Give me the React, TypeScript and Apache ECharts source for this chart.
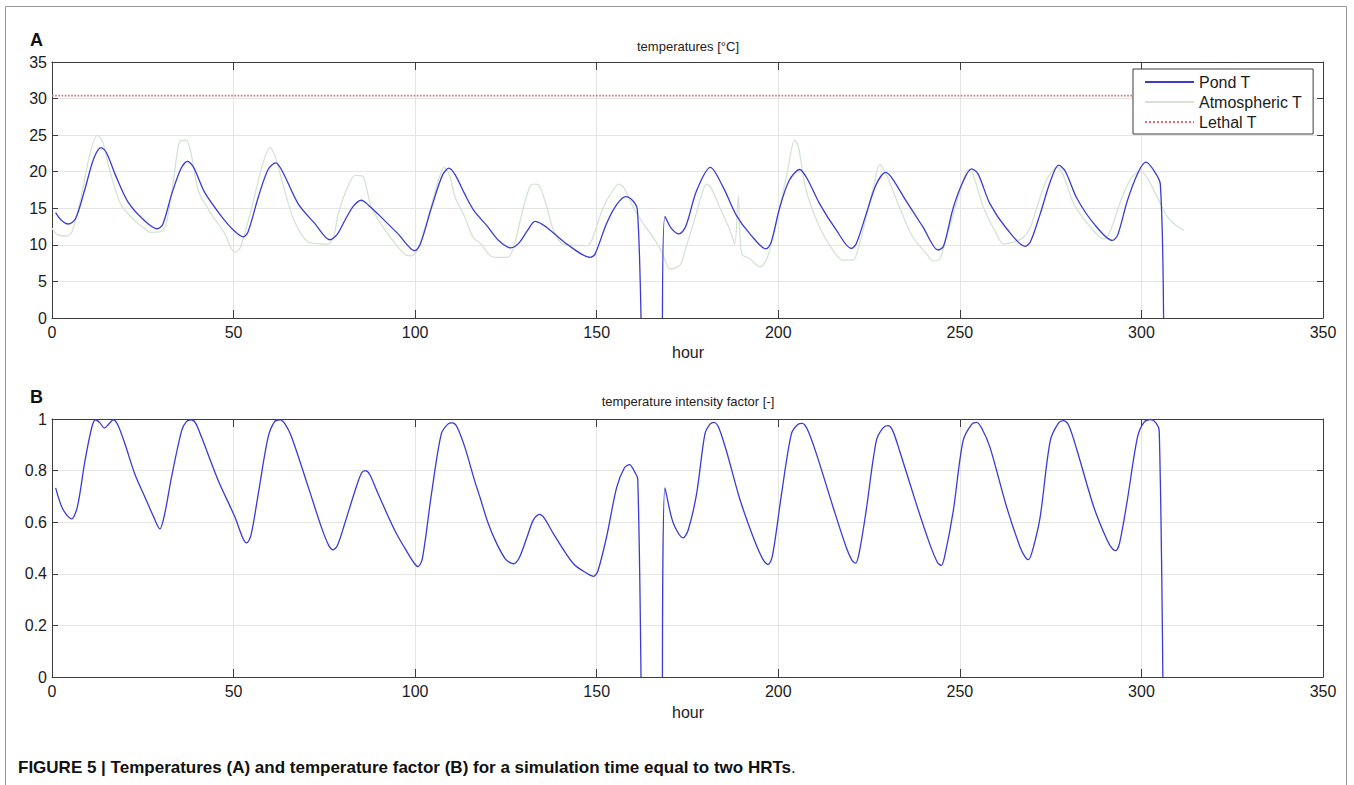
import React, { useEffect, useRef } from "react";
import * as echarts from "echarts";

const FONT = '"Liberation Sans", Arial, Helvetica, sans-serif';

// x ticks (hour)
const hourTicks = [0, 50, 100, 150, 200, 250, 300, 350];
const tempTicks = [0, 5, 10, 15, 20, 25, 30, 35];
const factorTicks = [0, 0.2, 0.4, 0.6, 0.8, 1];

const seriesNames = ["Pond T", "Atmospheric T", "Lethal T"];

// Pond temperature [hour, °C]
const pondT: (number | null)[][] = [
  [1, 14.4], [2.5, 13.4], [4.5, 12.85], [6.5, 13.6], [9, 17.5], [11.5, 21.8], [13.5, 23.3], [15, 22.6],
  [17.5, 19.5], [21, 15.8], [25.5, 13.3], [29, 12.2], [30.5, 12.8], [33, 17], [35.5, 20.4], [37.3, 21.4],
  [39, 20.6], [42, 17.2], [46.5, 14.0], [50, 12], [52.7, 11.1], [54, 11.8], [56.8, 16.5], [59.5, 20.3],
  [61.6, 21.2], [63.5, 20.0], [67.8, 15.6], [72.4, 12.9], [76.5, 10.7], [78.5, 11.4], [80.6, 13.3],
  [83, 15.3], [85.2, 16.1], [87, 15.5], [89.8, 14.2], [95.3, 11.5], [99.9, 9.2], [101.5, 10.2],
  [104.5, 15.1], [107.5, 19.5], [109.3, 20.5], [111, 19.6], [113.6, 17.0], [116.3, 14.6], [119.8, 12.6],
  [123, 10.6], [126.3, 9.6], [128.5, 10.2], [131, 12.0], [133, 13.2], [135, 12.8], [137.2, 12.0],
  [141.8, 10.1], [148.2, 8.3], [149.5, 8.7], [152.7, 12.9], [155.5, 15.5], [158, 16.6], [160, 16.0],
  [161.2, 14.8], [162.2, 0], [165, null], [168.1, 0], [168.8, 13.9], [170.5, 12.3], [172.7, 11.5],
  [174.5, 12.5], [177.5, 17.4], [181.3, 20.6], [184.8, 17.9], [188.5, 14.0], [192.2, 11.5], [196.6, 9.45],
  [198, 10.3], [200.4, 15.1], [203, 18.8], [205.9, 20.3], [208, 19.0], [211.4, 15.6], [216, 12.0],
  [220.1, 9.5], [221.5, 10.2], [224.2, 14.2], [227, 18.3], [229.6, 19.9], [231.5, 19.0], [235.2, 16.0],
  [239.9, 12.4], [244, 9.3], [245.5, 9.8], [248.2, 15.1], [251, 18.8], [253.2, 20.4], [255, 19.7],
  [258.3, 15.6], [262.9, 12.2], [268, 9.8], [269.5, 10.5], [272.1, 14.2], [275, 18.8], [277.2, 20.9],
  [279, 20.1], [282.3, 16.3], [286.9, 12.9], [292, 10.6], [293.5, 11.4], [296.1, 16.0], [299, 19.8],
  [301.2, 21.3], [303.5, 20.1], [305.2, 18.3], [306.1, 0],
];

// Atmospheric temperature [hour, °C]
const atmT: number[][] = [
  [0, 12.3], [1.5, 11.4], [4, 11.2], [5.5, 11.8], [8, 16.5], [10.5, 22.5], [12.5, 25.0], [14, 24],
  [16, 20], [19, 15.5], [22.8, 13.3], [25.6, 12.2], [27, 11.7], [30, 11.8], [31.5, 13], [33.5, 19],
  [35.3, 24.2], [37, 24.3], [38.5, 22], [40.3, 17.4], [43.9, 14.2], [47.6, 11.5], [49.5, 9.4], [50.6, 9.0],
  [52, 9.8], [55, 15.1], [58, 21], [60, 23.3], [61.5, 22], [64, 17.5], [66.5, 13.5], [69, 11.2],
  [71, 10.3], [76, 10.1], [77.5, 11], [78.8, 14.2], [81.5, 18], [83.5, 19.5], [85.5, 19.4], [86.5, 18],
  [88, 15.1], [91.7, 12.0], [95.3, 9.7], [97.5, 8.6], [99, 8.5], [100.5, 9.2], [103.6, 13.8], [106.5, 19],
  [108, 20.6], [109.5, 19.5], [111, 16.5], [113.5, 14], [116, 11], [118, 10.2], [120.5, 8.6], [122, 8.3],
  [125.3, 8.3], [127, 9.5], [129.8, 15.1], [131.5, 17.8], [132.6, 18.3], [134, 18.2], [136.3, 15.1],
  [138.1, 12.0], [140.8, 10.1], [147.2, 9.9], [148.5, 10.5], [151.8, 15.1], [154.5, 17.5], [156, 18.3],
  [157.5, 17.8], [160.1, 15.1], [162.8, 12.9], [165.6, 11.0], [168, 9], [170.2, 6.7], [172.9, 7.2],
  [174.5, 9.5], [176.6, 12.9], [179, 17], [180.2, 18.3], [181.5, 17.8], [183.9, 15.1], [186.7, 12.0],
  [188, 10.1], [189, 16.7], [189.9, 8.8], [192.2, 8.1], [194.9, 7.0], [196.7, 7.9], [198.5, 11],
  [200.4, 15.1], [202.5, 20], [204.5, 24.3], [205.5, 23.5], [207.7, 17.4], [211.4, 12.4], [215.1, 9.2],
  [217.8, 7.9], [220.6, 7.9], [222, 9.5], [224.2, 13.8], [226.5, 18.5], [227.9, 21.0], [229.7, 19.7],
  [233.4, 15.1], [237.1, 11.0], [240.8, 8.8], [242.6, 7.8], [244.5, 8.1], [246, 10.5], [248.2, 14.2],
  [250.5, 18], [252.3, 20.2], [253.5, 19.8], [256.5, 15.1], [260.1, 11.5], [262, 10.1], [264.8, 10.4],
  [267.5, 11], [269.5, 12.5], [271.2, 15.1], [274, 19], [276.8, 20.6], [278.5, 19.5], [281.4, 15.6],
  [286, 12.4], [289.7, 10.8], [291.5, 12], [294.3, 16.0], [297, 19], [299.8, 20.1], [301.5, 19.2],
  [303.5, 17.4], [307.2, 13.8], [310, 12.5], [311.8, 12.0],
];

// Lethal temperature [hour, °C]
const lethalT: number[][] = [
  [0, 30.4], [312, 30.4],
];

// Temperature intensity factor [hour, -]
const factor: (number | null)[][] = [
  [1, 0.733], [3, 0.65], [5.4, 0.613], [7, 0.66], [9.1, 0.84], [11, 0.97], [12, 0.997], [13.2, 0.985],
  [14.4, 0.965], [15.6, 0.98], [16.9, 0.997], [18.2, 0.975], [20.1, 0.903], [22.8, 0.787], [25.6, 0.697],
  [28, 0.62], [29.7, 0.574], [31, 0.63], [32.9, 0.774], [35.7, 0.955], [37, 0.99], [38.3, 0.997],
  [39.5, 0.985], [41.2, 0.929], [45.8, 0.761], [50.4, 0.619], [52.5, 0.54], [53.6, 0.52], [54.8, 0.55],
  [56.8, 0.71], [59.5, 0.929], [61.3, 0.99], [62.8, 0.997], [64.2, 0.98], [66, 0.929], [70.6, 0.735],
  [74.2, 0.58], [76.2, 0.51], [77.4, 0.493], [78.6, 0.51], [80.6, 0.594], [83.4, 0.72], [85.2, 0.79],
  [86.3, 0.8], [87.5, 0.785], [89.8, 0.71], [94.4, 0.568], [98.1, 0.477], [99.8, 0.44], [100.8, 0.428],
  [102, 0.46], [104.5, 0.71], [107.2, 0.942], [109, 0.98], [110.2, 0.985], [111.5, 0.97], [113.7, 0.89],
  [116.4, 0.76], [118, 0.69], [120, 0.6], [122.5, 0.516], [125, 0.455], [127.1, 0.439], [128.6, 0.46],
  [130.8, 0.542], [132.6, 0.61], [134.2, 0.63], [135.6, 0.615], [138.1, 0.555], [143.6, 0.439],
  [147.5, 0.4], [149.1, 0.39], [150.3, 0.41], [152.7, 0.542], [155.5, 0.735], [157.6, 0.81], [159, 0.823],
  [160.5, 0.794], [161.3, 0.768], [162.2, 0], [165, null], [168.1, 0], [168.8, 0.733], [171, 0.6],
  [173.8, 0.539], [175.2, 0.57], [177.5, 0.71], [179.8, 0.942], [181.2, 0.98], [182.3, 0.987],
  [183.5, 0.97], [185.7, 0.877], [189.4, 0.69], [193.1, 0.542], [195.8, 0.455], [197.2, 0.436],
  [198.4, 0.47], [200.9, 0.71], [203.6, 0.942], [205.3, 0.978], [206.6, 0.983], [208, 0.96], [210.5, 0.865],
  [215.1, 0.658], [218.7, 0.503], [220.3, 0.452], [221.3, 0.441], [222.4, 0.49], [224.2, 0.645],
  [227, 0.916], [228.8, 0.965], [230.2, 0.974], [231.5, 0.955], [233.4, 0.877], [238, 0.671],
  [241.7, 0.516], [243.8, 0.445], [244.9, 0.432], [246, 0.48], [248.2, 0.645], [250.9, 0.916],
  [253.3, 0.98], [254.6, 0.987], [256, 0.965], [258.3, 0.89], [262.9, 0.658], [266.6, 0.503],
  [268, 0.465], [268.9, 0.455], [270, 0.49], [272.1, 0.619], [274.9, 0.916], [277.2, 0.985],
  [278.6, 0.994], [280, 0.975], [282.3, 0.877], [286.9, 0.658], [290.6, 0.529], [292, 0.497],
  [292.9, 0.49], [294, 0.52], [296.1, 0.684], [298.9, 0.929], [300.7, 0.987], [302.6, 0.998],
  [304, 0.985], [304.9, 0.955], [305.9, 0],
];

const AXIS_COLOR = "#3d3d3d";
const GRID_COLOR = "#e4e4e4";
const LABEL_COLOR = "#1c1c1c";
const TICK_FONT = 16;

function xAxes(gridIndex: number) {
  const base = {
    type: "value" as const,
    gridIndex,
    min: hourTicks[0],
    max: hourTicks[hourTicks.length - 1],
    interval: hourTicks[1] - hourTicks[0],
  };
  return [
    {
      ...base,
      position: "bottom",
      axisLine: { show: true, onZero: false, lineStyle: { color: AXIS_COLOR, width: 1 } },
      axisTick: { show: true, inside: true, length: 8, lineStyle: { color: AXIS_COLOR } },
      axisLabel: { fontSize: TICK_FONT, color: LABEL_COLOR, margin: 6, fontFamily: FONT },
      splitLine: { show: true, lineStyle: { color: GRID_COLOR, width: 1 } },
    },
    {
      ...base,
      position: "top",
      axisLine: { show: true, onZero: false, lineStyle: { color: AXIS_COLOR, width: 1 } },
      axisTick: { show: true, inside: true, length: 8, lineStyle: { color: AXIS_COLOR } },
      axisLabel: { show: false },
      splitLine: { show: false },
    },
  ];
}

function yAxes(gridIndex: number, ticks: number[], fmt: (v: number) => string) {
  const base = {
    type: "value" as const,
    gridIndex,
    min: ticks[0],
    max: ticks[ticks.length - 1],
    interval: ticks[1] - ticks[0],
  };
  return [
    {
      ...base,
      position: "left",
      axisLine: { show: true, onZero: false, lineStyle: { color: AXIS_COLOR, width: 1 } },
      axisTick: { show: true, inside: true, length: 6, lineStyle: { color: AXIS_COLOR } },
      axisLabel: { fontSize: TICK_FONT, color: LABEL_COLOR, margin: 5, fontFamily: FONT, formatter: fmt },
      splitLine: { show: true, lineStyle: { color: GRID_COLOR, width: 1 } },
    },
    {
      ...base,
      position: "right",
      axisLine: { show: true, onZero: false, lineStyle: { color: AXIS_COLOR, width: 1 } },
      axisTick: { show: true, inside: true, length: 6, lineStyle: { color: AXIS_COLOR } },
      axisLabel: { show: false },
      splitLine: { show: false },
    },
  ];
}

export default function App() {
  const ref = useRef<HTMLDivElement>(null);

  useEffect(() => {
    if (!ref.current) return;
    const chart = echarts.init(ref.current, null, { renderer: "svg" });

    const option: any = {
      animation: false,
      backgroundColor: "#ffffff",
      textStyle: { fontFamily: FONT },
      grid: [
        { left: 52, top: 62, width: 1271, height: 256, containLabel: false },
        { left: 52, top: 419, width: 1271, height: 258, containLabel: false },
      ],
      xAxis: [...xAxes(0), ...xAxes(1)],
      yAxis: [
        ...yAxes(0, tempTicks, (v: number) => String(v)),
        ...yAxes(1, factorTicks, (v: number) => String(parseFloat(v.toFixed(1)))),
      ],
      legend: {
        data: seriesNames,
        orient: "vertical",
        left: 1133,
        top: 69,
        itemWidth: 49,
        itemHeight: 14,
        itemGap: 4,
        padding: [5, 11, 4, 11],
        backgroundColor: "#ffffff",
        borderColor: AXIS_COLOR,
        borderWidth: 1,
        borderRadius: 0,
        itemStyle: { opacity: 0 },
        textStyle: { fontSize: 16, color: LABEL_COLOR, fontFamily: FONT },
        selectedMode: false,
      },
      series: [
        {
          name: seriesNames[1],
          type: "line",
          xAxisIndex: 0,
          yAxisIndex: 0,
          data: atmT,
          symbol: "none",
          showSymbol: false,
          smooth: 0.3,
          lineStyle: { color: "#d4e4d4", width: 1.3 },
          itemStyle: { color: "#d4e4d4" },
          z: 2,
        },
        {
          name: seriesNames[2],
          type: "line",
          xAxisIndex: 0,
          yAxisIndex: 0,
          data: lethalT,
          symbol: "none",
          showSymbol: false,
          lineStyle: { color: "#e6696b", width: 1.6, type: "dotted" },
          itemStyle: { color: "#e6696b" },
          z: 2,
        },
        {
          name: seriesNames[0],
          type: "line",
          xAxisIndex: 0,
          yAxisIndex: 0,
          data: pondT,
          symbol: "none",
          showSymbol: false,
          smooth: 0.3,
          connectNulls: false,
          lineStyle: { color: "#3b3bd4", width: 1.3 },
          itemStyle: { color: "#3b3bd4" },
          z: 3,
        },
        {
          name: "temperature intensity factor",
          type: "line",
          xAxisIndex: 2,
          yAxisIndex: 2,
          data: factor,
          symbol: "none",
          showSymbol: false,
          smooth: 0.3,
          connectNulls: false,
          lineStyle: { color: "#3b3bd4", width: 1.3 },
          itemStyle: { color: "#3b3bd4" },
          z: 3,
        },
      ],
      graphic: [
        {
          type: "rect",
          shape: { x: 5.5, y: 6.5, width: 1341, height: 820 },
          style: { fill: "none", stroke: "#9a9a9a", lineWidth: 1 },
          silent: true,
          z: 0,
        },
        {
          type: "text",
          x: 30,
          y: 40,
          style: { text: "A", font: `bold 18px ${FONT}`, fill: "#111", verticalAlign: "middle" },
        },
        {
          type: "text",
          x: 688,
          y: 46,
          style: { text: "temperatures [°C]", font: `13px ${FONT}`, fill: "#222", align: "center", verticalAlign: "middle" },
        },
        {
          type: "text",
          x: 688,
          y: 352,
          style: { text: "hour", font: `16px ${FONT}`, fill: "#1c1c1c", align: "center", verticalAlign: "middle" },
        },
        {
          type: "text",
          x: 30,
          y: 397,
          style: { text: "B", font: `bold 18px ${FONT}`, fill: "#111", verticalAlign: "middle" },
        },
        {
          type: "text",
          x: 688,
          y: 401,
          style: { text: "temperature intensity factor [-]", font: `13px ${FONT}`, fill: "#222", align: "center", verticalAlign: "middle" },
        },
        {
          type: "text",
          x: 688,
          y: 712,
          style: { text: "hour", font: `16px ${FONT}`, fill: "#1c1c1c", align: "center", verticalAlign: "middle" },
        },
        {
          type: "text",
          x: 18,
          y: 767,
          style: {
            text: "{b|FIGURE 5 | Temperatures (A) and temperature factor (B) for a simulation time equal to two HRTs}{n|.}",
            verticalAlign: "middle",
            rich: {
              b: { font: `bold 17px ${FONT}`, fill: "#111" },
              n: { font: `17px ${FONT}`, fill: "#111" },
            },
          },
        },
      ],
    };

    chart.setOption(option);
    return () => chart.dispose();
  }, []);

  return (
    <div
      ref={ref}
      style={{ position: "absolute", left: 0, top: 0, width: 1354, height: 785, background: "#fff" }}
    />
  );
}
